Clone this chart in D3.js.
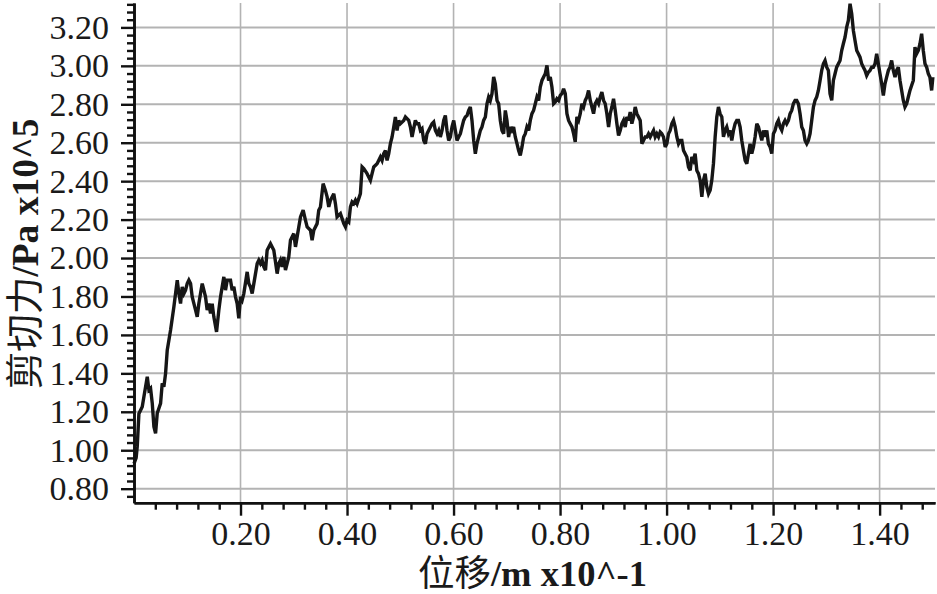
<!DOCTYPE html>
<html>
<head>
<meta charset="utf-8">
<script src="https://cdn.jsdelivr.net/npm/d3@7"></script>
<style>
  html, body { margin: 0; padding: 0; background: #fff; }
  svg { display: block; }
</style>
</head>
<body>
<svg id="chart" width="937" height="594"></svg>
<script>
// ---------- data (displacement in m x10^-1, shear force in Pa x10^5) ----------
const displacement = [
  0,0.004,0.0061,0.0092,0.0155,0.0186,0.0249,0.028,0.0311,0.0343,
  0.0374,0.0405,0.0436,0.0499,0.053,0.0561,0.0593,0.0624,0.0687,0.0749,
  0.0812,0.0843,0.0874,0.0905,0.0937,0.0968,0.0999,0.103,0.1062,0.1093,
  0.1156,0.1187,0.1218,0.1249,0.1281,0.1312,0.1343,0.1374,0.1406,0.1437,
  0.1468,0.1499,0.155,0.1593,0.1625,0.1687,0.1718,0.175,0.1812,0.1843,
  0.1875,0.1906,0.1937,0.1968,0.2,0.2031,0.2062,0.2125,0.2156,0.2187,
  0.2219,0.225,0.2313,0.2344,0.2375,0.2406,0.2438,0.2469,0.25,0.2563,
  0.2594,0.2625,0.2688,0.2719,0.275,0.2781,0.2813,0.2844,0.2875,0.2906,
  0.2938,0.3,0.3032,0.3063,0.3126,0.3176,0.3219,0.3251,0.3313,0.3344,
  0.3376,0.3438,0.3469,0.3501,0.3551,0.3594,0.3626,0.3657,0.3688,0.372,
  0.3751,0.3782,0.3813,0.3876,0.3939,0.397,
  0.4001,0.4033,0.4064,0.4095,0.4126,0.4158,0.4189,0.4251,0.4283,0.4314,
  0.4376,0.4439,0.447,0.4502,0.4564,0.4627,0.4658,0.4689,0.4721,0.4752,
  0.4783,0.4814,0.4846,0.4877,0.4908,0.4939,0.4971,0.5002,0.5065,0.5096,
  0.5158,0.519,0.5221,0.5252,0.5283,0.5315,0.5346,0.5377,0.5408,0.544,
  0.5471,0.5502,0.5565,0.5596,0.5627,0.5659,0.569,0.5721,0.5752,0.5784,
  0.5815,0.5846,0.5877,0.5909,0.594,0.5971,0.6003,0.6034,0.6065,0.6096,
  0.6128,0.6159,0.619,0.6221,0.6253,0.6284,0.6315,0.6346,0.6378,0.6409,
  0.644,0.6472,0.6503,0.6534,0.6565,0.6597,0.6628,0.6659,0.669,0.6722,
  0.6753,0.6784,0.6816,0.6847,0.6878,0.6909,0.6941,0.6972,0.7003,0.7034,
  0.7066,0.7097,0.7128,0.7159,0.7191,0.7222,0.7253,0.7285,0.7316,0.7347,
  0.7378,0.741,0.7441,0.7472,0.7503,0.7535,0.7566,0.7597,0.7628,0.766,
  0.7691,0.7722,
  0.7754,0.7785,0.7816,0.7847,0.7879,0.7910,0.7941,0.7972,0.8004,0.8035,
  0.8066,0.8098,0.8129,0.8160,0.8191,0.8223,0.8254,0.8285,0.8316,0.8348,
  0.8379,0.8410,0.8442,0.8473,0.8504,0.8535,0.8567,0.8598,0.8629,0.8660,
  0.8692,0.8723,0.8754,0.8785,0.8817,0.8848,0.8879,0.8911,0.8942,0.8973,
  0.9004,0.9036,0.9067,0.9098,0.9129,0.9161,0.9192,0.9223,0.9254,0.9286,
  0.9317,0.9348,0.9380,0.9411,0.9442,0.9473,0.9505,0.9536,0.9567,0.9598,
  0.9630,0.9661,0.9692,0.9723,0.9755,0.9786,0.9817,0.9849,0.9880,0.9911,
  0.9942,0.9974,1.0005,1.0036,1.0067,1.0099,1.0130,1.0161,1.0193,1.0224,
  1.0255,1.0286,1.0318,1.0349,1.0380,1.0411,1.0443,1.0474,1.0505,1.0536,
  1.0568,1.0599,1.0630,1.0662,1.0693,1.0724,1.0755,1.0787,1.0818,1.0849,
  1.0880,1.0912,1.0943,1.0974,1.1005,1.1037,1.1068,1.1099,1.1130,1.1162,
  1.1193,1.1224,1.1256,1.1287,1.1318,
  1.1350,1.1381,1.1412,1.1443,1.1475,1.1506,1.1537,1.1568,1.1600,1.1631,
  1.1662,1.1694,1.1725,1.1756,1.1787,1.1819,1.1850,1.1881,1.1912,1.1944,
  1.1975,1.2006,1.2037,1.2069,1.2100,1.2131,1.2163,1.2194,1.2225,1.2256,
  1.2288,1.2319,1.2350,1.2381,1.2413,1.2444,1.2475,1.2506,1.2538,1.2569,
  1.2600,1.2632,1.2663,1.2694,1.2725,1.2757,1.2788,1.2819,1.2850,1.2882,
  1.2913,1.2944,1.2975,1.3007,1.3038,1.3069,1.3101,1.3132,1.3163,1.3194,
  1.3226,1.3257,1.3288,1.3319,1.3351,1.3382,1.3413,1.3445,1.3476,1.3507,
  1.3538,1.3570,1.3601,1.3632,1.3663,1.3695,1.3726,1.3757,1.3788,1.3820,
  1.3851,1.3882,1.3914,1.3945,1.3976,1.4007,1.4039,1.4070,1.4101,1.4132,
  1.4164,1.4195,1.4226,1.4257,1.4289,1.4320,1.4351,1.4383,1.4414,1.4445,
  1.4476,1.4508,1.4539,1.4570,1.4601,1.4633,1.4664,1.4695,1.4727,1.4758,
  1.4789,1.4820,1.4852,1.4883,1.4914,1.4945,1.4977,1.5000
];
const shearForce = [
  0.93,0.96,1.02,1.19,1.226,1.278,1.382,1.313,1.322,1.244,
  1.122,1.088,1.192,1.244,1.348,1.330,1.400,1.521,1.625,1.746,
  1.885,1.815,1.763,1.850,1.815,1.833,1.867,1.885,1.867,1.798,
  1.729,1.694,1.763,1.815,1.867,1.833,1.798,1.729,1.763,1.711,
  1.763,1.694,1.616,1.729,1.798,1.902,1.833,1.885,1.885,1.833,
  1.850,1.798,1.763,1.686,1.798,1.781,1.815,1.928,1.867,1.850,
  1.815,1.867,1.971,1.989,1.971,1.989,1.954,1.937,2.041,2.075,
  2.058,2.041,1.919,1.971,1.989,1.954,2.006,1.937,1.971,2.006,
  2.093,2.127,2.058,2.110,2.214,2.249,2.197,2.162,2.145,2.093,
  2.145,2.179,2.249,2.266,2.387,2.352,2.318,2.266,2.300,2.318,
  2.335,2.283,2.214,2.231,2.179,2.162,
  2.197,2.188,2.266,2.292,2.283,2.301,2.283,2.335,2.474,2.465,
  2.439,2.404,2.439,2.474,2.491,2.526,2.508,2.543,2.560,2.508,
  2.543,2.595,2.630,2.682,2.734,2.664,2.716,2.699,2.716,2.734,
  2.716,2.682,2.630,2.673,2.716,2.699,2.699,2.664,2.673,2.612,
  2.595,2.647,2.682,2.699,2.708,2.664,2.647,2.664,2.630,2.664,
  2.716,2.742,2.664,2.612,2.630,2.682,2.716,2.664,2.612,2.630,
  2.647,2.682,2.716,2.734,2.742,2.768,2.786,2.716,2.612,2.543,
  2.595,2.630,2.664,2.682,2.716,2.734,2.803,2.838,2.820,2.855,
  2.942,2.907,2.820,2.803,2.716,2.664,2.647,2.768,2.716,2.630,
  2.682,2.664,2.682,2.630,2.595,2.560,2.534,2.578,2.630,2.647,
  2.682,2.664,2.716,2.751,2.768,2.803,2.838,2.820,2.890,2.924,
  2.942,2.959,
  3.002,2.924,2.942,2.890,2.803,2.812,2.829,2.820,2.846,2.855,
  2.881,2.855,2.751,2.716,2.699,2.682,2.647,2.604,2.734,2.716,
  2.751,2.803,2.786,2.820,2.838,2.872,2.820,2.786,2.751,2.803,
  2.820,2.803,2.838,2.864,2.820,2.803,2.751,2.682,2.751,2.786,
  2.829,2.768,2.699,2.638,2.664,2.699,2.716,2.682,2.734,2.716,
  2.760,2.699,2.734,2.786,2.751,2.734,2.716,2.595,2.612,2.630,
  2.630,2.647,2.630,2.647,2.664,2.630,2.647,2.630,2.656,2.647,
  2.630,2.578,2.595,2.647,2.664,2.699,2.716,2.682,2.630,2.595,
  2.612,2.612,2.560,2.543,2.526,2.474,2.456,2.526,2.508,2.543,
  2.456,2.439,2.404,2.318,2.404,2.439,2.370,2.335,2.353,2.404,
  2.491,2.630,2.734,2.786,2.751,2.734,2.630,2.664,2.682,2.647,
  2.664,2.612,2.664,2.699,2.716,
  2.716,2.682,2.612,2.560,2.508,2.491,2.543,2.595,2.543,2.578,
  2.630,2.699,2.682,2.647,2.612,2.664,2.630,2.664,2.595,2.578,
  2.543,2.647,2.664,2.699,2.716,2.682,2.664,2.699,2.716,2.699,
  2.716,2.751,2.768,2.803,2.820,2.820,2.803,2.751,2.682,2.664,
  2.612,2.595,2.612,2.647,2.716,2.786,2.820,2.838,2.872,2.924,
  2.976,3.011,3.028,2.993,2.976,2.855,2.820,2.924,2.959,2.993,
  3.011,3.028,3.080,3.115,3.149,3.201,3.236,3.323,3.271,3.184,
  3.132,3.080,3.063,3.045,3.011,2.993,2.976,2.950,2.967,2.976,
  2.993,2.993,3.011,3.063,3.011,2.959,2.907,2.846,2.907,2.941,
  2.976,2.993,3.028,2.976,2.941,2.976,2.993,2.924,2.872,2.820,
  2.786,2.803,2.838,2.872,2.898,2.924,3.097,3.063,3.080,3.115,
  3.167,3.080,3.011,2.993,2.959,2.941,2.872,2.941
];
const xTicks = [0.2, 0.4, 0.6, 0.8, 1.0, 1.2, 1.4];
const yTicks = [0.8, 1.0, 1.2, 1.4, 1.6, 1.8, 2.0, 2.2, 2.4, 2.6, 2.8, 3.0, 3.2];
const xDomain = [0, 1.504];
const yDomain = [0.727, 3.327];
const minorStep = 0.04;
const xTitleCn = "位移", xTitleEn = "/m x10^-1";
const yTitleCn = "剪切力", yTitleEn = "/Pa x10^5";

// ---------- layout ----------
const svg = d3.select("#chart");
const plotLeft = 134, plotRight = 935, plotTop = 3, plotBottom = 502.7;
const x = d3.scaleLinear().domain(xDomain).range([plotLeft, plotRight]);
const y = d3.scaleLinear().domain(yDomain).range([plotBottom, plotTop]);
const serif = "'Liberation Serif', 'Times New Roman', serif";
const serifCjk = "'Liberation Serif', 'Noto Sans CJK SC', serif";

const points = d3.range(Math.min(displacement.length, shearForce.length))
  .map(i => [displacement[i], shearForce[i]]);

// minor tick values
const isMajor = v => Math.abs(v / 0.2 - Math.round(v / 0.2)) < 1e-6;
const xMinor = d3.range(1, Math.floor(xDomain[1] / minorStep + 1e-9) + 1)
  .map(i => +(i * minorStep).toFixed(2))
  .filter(v => !isMajor(v));
const yMinor = d3.range(Math.ceil(yDomain[0] / minorStep), Math.floor(yDomain[1] / minorStep) + 1)
  .map(i => +(i * minorStep).toFixed(2))
  .filter(v => !isMajor(v));

// ---------- grid ----------
const grid = svg.append("g");
grid.selectAll("line.h").data(yTicks).enter().append("line")
  .attr("class", "h")
  .attr("x1", plotLeft).attr("x2", plotRight)
  .attr("y1", d => y(d)).attr("y2", d => y(d))
  .attr("stroke", "#b3b3b3").attr("stroke-width", 2);
grid.selectAll("line.v").data(xTicks).enter().append("line")
  .attr("class", "v")
  .attr("x1", d => x(d)).attr("x2", d => x(d))
  .attr("y1", plotTop).attr("y2", plotBottom)
  .attr("stroke", "#b3b3b3").attr("stroke-width", 1.6);

// ---------- line ----------
svg.append("path")
  .datum(points)
  .attr("fill", "none")
  .attr("stroke", "#161616")
  .attr("stroke-width", 3.4)
  .attr("stroke-linejoin", "miter")
  .attr("stroke-miterlimit", 3)
  .attr("d", d3.line().x(d => x(d[0])).y(d => y(d[1])));

// ---------- axes ----------
const xMinorAxis = d3.axisBottom(x).tickValues(xMinor).tickSize(7).tickSizeOuter(0).tickFormat("");
const xAxis = d3.axisBottom(x).tickValues(xTicks).tickSize(13).tickSizeOuter(0)
  .tickPadding(5).tickFormat(d3.format(".2f"));
const yMinorAxis = d3.axisLeft(y).tickValues(yMinor).tickSize(7).tickSizeOuter(0).tickFormat("");
const yAxis = d3.axisLeft(y).tickValues(yTicks).tickSize(13).tickSizeOuter(0)
  .tickPadding(12).tickFormat(d3.format(".2f"));

function styleAxis(g) {
  g.selectAll("path.domain").attr("stroke", "#111").attr("stroke-width", 2.6);
  g.selectAll(".tick line").attr("stroke", "#111").attr("stroke-width", 2.4);
  g.selectAll(".tick text")
    .attr("fill", "#1a1a1a")
    .style("font-family", serif)
    .style("font-size", "34px");
}
svg.append("g").attr("transform", `translate(0,${plotBottom})`).call(xMinorAxis).call(styleAxis);
svg.append("g").attr("transform", `translate(0,${plotBottom})`).call(xAxis).call(styleAxis);
svg.append("g").attr("transform", `translate(${plotLeft},0)`).call(yMinorAxis).call(styleAxis);
svg.append("g").attr("transform", `translate(${plotLeft},0)`).call(yAxis).call(styleAxis);

// ---------- titles ----------
const xt = svg.append("text")
  .attr("x", (plotLeft + plotRight) / 2 - 2).attr("y", 586)
  .attr("text-anchor", "middle")
  .attr("fill", "#1a1a1a")
  .style("font-family", serif)
  .style("font-size", "36.5px");
xt.append("tspan").text(xTitleCn)
  .style("font-family", serifCjk).style("font-weight", "normal");
xt.append("tspan").text(xTitleEn)
  .style("font-family", serif).style("font-weight", "bold");

const yt = svg.append("text")
  .attr("transform", `translate(38,${(plotTop + plotBottom) / 2 + 1}) rotate(-90)`)
  .attr("text-anchor", "middle")
  .attr("fill", "#1a1a1a")
  .style("font-family", serif)
  .style("font-size", "37.5px");
yt.append("tspan").text(yTitleCn)
  .style("font-family", serifCjk).style("font-weight", "normal");
yt.append("tspan").text(yTitleEn)
  .style("font-family", serif).style("font-weight", "bold");
</script>
</body>
</html>
